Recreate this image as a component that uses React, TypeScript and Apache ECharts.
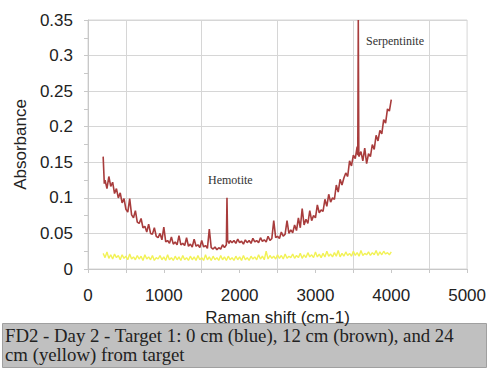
import React, { useEffect, useRef } from "react";
import * as echarts from "echarts";

// Raman shift (cm-1) vs absorbance, 12 cm (brown)
const brown12cm: [number, number][] = [
  [200, 0.158], [215, 0.12], [225, 0.125], [250, 0.113], [275, 0.13], [300, 0.116], [325, 0.122], [350, 0.106],
  [375, 0.113], [400, 0.1], [425, 0.107], [450, 0.093], [475, 0.099], [500, 0.084], [525, 0.08], [550, 0.099],
  [575, 0.076], [600, 0.072], [625, 0.082], [650, 0.066], [675, 0.064], [700, 0.071], [725, 0.058], [750, 0.06],
  [775, 0.052], [800, 0.063], [825, 0.05], [850, 0.049], [875, 0.058], [900, 0.046], [925, 0.044], [950, 0.05],
  [975, 0.041], [1000, 0.059], [1025, 0.038], [1050, 0.04], [1075, 0.036], [1100, 0.045], [1125, 0.035], [1150, 0.038],
  [1175, 0.034], [1200, 0.047], [1225, 0.034], [1250, 0.036], [1275, 0.033], [1300, 0.044], [1325, 0.032], [1350, 0.035],
  [1375, 0.031], [1400, 0.042], [1425, 0.032], [1450, 0.034], [1475, 0.03], [1500, 0.04], [1525, 0.031], [1550, 0.033],
  [1575, 0.029], [1600, 0.056], [1625, 0.03], [1650, 0.028], [1675, 0.031], [1700, 0.027], [1725, 0.03], [1750, 0.028],
  [1775, 0.034], [1800, 0.03], [1825, 0.034], [1833, 0.1], [1842, 0.04], [1860, 0.036], [1875, 0.04], [1900, 0.037],
  [1925, 0.04], [1950, 0.036], [1975, 0.042], [2000, 0.037], [2025, 0.039], [2050, 0.035], [2075, 0.041], [2100, 0.037],
  [2125, 0.04], [2150, 0.036], [2175, 0.043], [2200, 0.038], [2225, 0.04], [2250, 0.037], [2275, 0.044], [2300, 0.039],
  [2325, 0.041], [2350, 0.038], [2375, 0.046], [2400, 0.04], [2425, 0.043], [2450, 0.068], [2475, 0.044], [2500, 0.046],
  [2525, 0.043], [2550, 0.052], [2575, 0.046], [2600, 0.049], [2625, 0.068], [2650, 0.05], [2675, 0.055], [2700, 0.051],
  [2725, 0.062], [2750, 0.054], [2775, 0.072], [2800, 0.058], [2825, 0.085], [2850, 0.062], [2875, 0.07], [2900, 0.064],
  [2925, 0.082], [2950, 0.068], [2975, 0.075], [3000, 0.072], [3025, 0.09], [3050, 0.079], [3075, 0.083], [3100, 0.081],
  [3125, 0.098], [3150, 0.088], [3175, 0.105], [3200, 0.094], [3225, 0.1], [3250, 0.098], [3275, 0.118], [3300, 0.108],
  [3325, 0.126], [3350, 0.118], [3375, 0.128], [3400, 0.135], [3425, 0.13], [3450, 0.152], [3475, 0.145], [3500, 0.16],
  [3525, 0.155], [3550, 0.172], [3558, 0.16], [3565, 0.35], [3572, 0.158], [3600, 0.165], [3625, 0.152], [3650, 0.17],
  [3675, 0.148], [3700, 0.162], [3725, 0.158], [3750, 0.175], [3775, 0.168], [3800, 0.188], [3825, 0.18], [3850, 0.195],
  [3875, 0.19], [3900, 0.21], [3925, 0.205], [3950, 0.225], [3975, 0.222], [4000, 0.238],
];

// Raman shift grid for the 24 cm (yellow) spectrum
const yellowShift: number[] = [
  200, 225, 250, 275, 300, 325, 350, 375, 400, 425,
  450, 475, 500, 525, 550, 575, 600, 625, 650, 675,
  700, 725, 750, 775, 800, 825, 850, 875, 900, 925,
  950, 975, 1000, 1025, 1050, 1075, 1100, 1125, 1150, 1175,
  1200, 1225, 1250, 1275, 1300, 1325, 1350, 1375, 1400, 1425,
  1450, 1475, 1500, 1525, 1550, 1575, 1600, 1625, 1650, 1675,
  1700, 1725, 1750, 1775, 1800, 1825, 1850, 1875, 1900, 1925,
  1950, 1975, 2000, 2025, 2050, 2075, 2100, 2125, 2150, 2175,
  2200, 2225, 2250, 2275, 2300, 2325, 2350, 2375, 2400, 2425,
  2450, 2475, 2500, 2525, 2550, 2575, 2600, 2625, 2650, 2675,
  2700, 2725, 2750, 2775, 2800, 2825, 2850, 2875, 2900, 2925,
  2950, 2975, 3000, 3025, 3050, 3075, 3100, 3125, 3150, 3175,
  3200, 3225, 3250, 3275, 3300, 3325, 3350, 3375, 3400, 3425,
  3450, 3475, 3500, 3525, 3550, 3575, 3600, 3625, 3650, 3675,
  3700, 3725, 3750, 3775, 3800, 3825, 3850, 3875, 3900, 3925,
  3950, 3975, 4000,
];

const yellowAbs: number[] = [
  0.022, 0.016, 0.024, 0.015, 0.02, 0.014, 0.021, 0.016, 0.019, 0.013,
  0.02, 0.015, 0.018, 0.013, 0.021, 0.014, 0.017, 0.013, 0.019, 0.014,
  0.018, 0.012, 0.02, 0.014, 0.017, 0.013, 0.019, 0.012, 0.016, 0.014,
  0.019, 0.013, 0.017, 0.012, 0.02, 0.013, 0.016, 0.012, 0.018, 0.013,
  0.017, 0.012, 0.019, 0.013, 0.016, 0.012, 0.018, 0.013, 0.017, 0.012,
  0.019, 0.013, 0.016, 0.012, 0.02, 0.013, 0.017, 0.012, 0.018, 0.013,
  0.016, 0.012, 0.019, 0.013, 0.017, 0.012, 0.018, 0.013, 0.016, 0.012,
  0.018, 0.013, 0.017, 0.012, 0.019, 0.013, 0.016, 0.012, 0.018, 0.014,
  0.017, 0.013, 0.02, 0.014, 0.018, 0.013, 0.025, 0.014, 0.019, 0.015,
  0.018, 0.014, 0.02, 0.015, 0.019, 0.014, 0.021, 0.015, 0.018, 0.016,
  0.021, 0.015, 0.019, 0.016, 0.022, 0.015, 0.02, 0.016, 0.023, 0.017,
  0.02, 0.016, 0.024, 0.017, 0.021, 0.016, 0.022, 0.017, 0.025, 0.018,
  0.021, 0.017, 0.023, 0.018, 0.026, 0.017, 0.022, 0.018, 0.024, 0.019,
  0.022, 0.018, 0.025, 0.019, 0.023, 0.018, 0.026, 0.019, 0.022, 0.02,
  0.024, 0.019, 0.023, 0.02, 0.026, 0.019, 0.024, 0.02, 0.025, 0.021,
  0.023, 0.02, 0.024,
];

const yTitle = "Absorbance";
const xTitle = "Raman shift (cm-1)";
const captionLines = [
  "FD2 - Day 2 - Target 1: 0 cm (blue), 12 cm (brown), and 24",
  "cm (yellow) from target",
];
const annotations = [
  { text: "Serpentinite", left: 366, top: 35 },
  { text: "Hemotite", left: 208, top: 174 },
];

const SANS = "'Liberation Sans', Arial, sans-serif";
const SERIF = "'Liberation Serif', 'Times New Roman', serif";

export default function App() {
  const ref = useRef<HTMLDivElement>(null);
  useEffect(() => {
    if (!ref.current) return;
    const chart = echarts.init(ref.current, undefined, { renderer: "svg" });
    const yellowData = yellowShift.map((x, i) => [x, yellowAbs[i]]);
    chart.setOption({
      animation: false,
      backgroundColor: "#ffffff",
      grid: {
        left: 88, right: 21, top: 20, bottom: 99,
        show: true, borderColor: "#d6d6d6", borderWidth: 1, containLabel: false,
      },
      xAxis: {
        type: "value", min: 0, max: 5000, interval: 500,
        name: xTitle, nameLocation: "middle", nameGap: 36,
        nameTextStyle: { fontFamily: SANS, fontSize: 17, color: "#222" },
        axisLine: { show: true, lineStyle: { color: "#c8c8c8" } },
        axisTick: { show: true, length: 4, lineStyle: { color: "#c8c8c8" } },
        axisLabel: {
          fontFamily: SANS, fontSize: 17, color: "#222", margin: 18,
          formatter: (v: number) => (v % 1000 === 0 ? String(v) : ""),
        },
        splitLine: { show: true, lineStyle: { color: ["rgba(0,0,0,0)", "#d6d6d6"], width: 1 } },
      },
      yAxis: {
        type: "value", min: 0, max: 0.35, interval: 0.05,
        name: yTitle, nameLocation: "middle", nameGap: 57, nameRotate: 90,
        nameTextStyle: { fontFamily: SANS, fontSize: 17, color: "#222" },
        axisLine: { show: true, lineStyle: { color: "#c8c8c8" } },
        axisTick: { show: true, length: 4, lineStyle: { color: "#c8c8c8" } },
        minorTick: { show: true, splitNumber: 2, length: 4, lineStyle: { color: "#c8c8c8" } },
        axisLabel: {
          fontFamily: SANS, fontSize: 17, color: "#222", margin: 15,
          formatter: (v: number) => String(Number(v.toFixed(2))),
        },
        splitLine: { show: true, lineStyle: { color: "#d6d6d6", width: 1 } },
      },
      series: [
        {
          type: "line", name: "24 cm", data: yellowData, showSymbol: false,
          lineStyle: { color: "#f2f256", width: 1.4 }, silent: true,
        },
        {
          type: "line", name: "12 cm", data: brown12cm, showSymbol: false,
          lineStyle: { color: "#a83c3c", width: 1.6 }, silent: true,
        },
      ],
      graphic: [
        ...annotations.map((a) => ({
          type: "text", left: a.left, top: a.top, silent: true,
          style: { text: a.text, fontFamily: SERIF, fontSize: 12, fill: "#333" },
        })),
        {
          type: "rect", left: 2, top: 323, silent: true,
          shape: { width: 484, height: 44 },
          style: { fill: "#c0c0c0", stroke: "#a0a0a0", lineWidth: 1 },
        },
        {
          type: "text", left: 5, top: 326, silent: true,
          style: {
            text: captionLines.join("\n"), fontFamily: SERIF, fontSize: 18.8,
            lineHeight: 19, fill: "#222",
          },
        },
      ],
    });
    return () => chart.dispose();
  }, []);
  return (
    <div
      ref={ref}
      style={{ position: "fixed", left: 0, top: 0, width: 489, height: 368 }}
    />
  );
}
